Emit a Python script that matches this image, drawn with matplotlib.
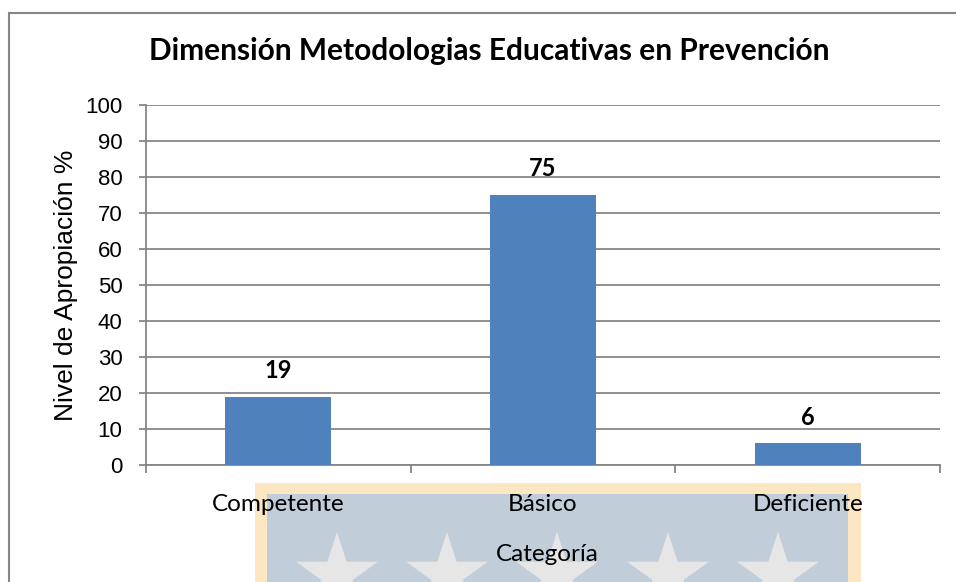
import matplotlib
matplotlib.use('Agg')
import matplotlib.pyplot as plt
import numpy as np
from matplotlib.patches import Rectangle, Polygon

categories = ['Competente', 'Básico', 'Deficiente']
values = [19, 75, 6]
y_ticks = [0, 10, 20, 30, 40, 50, 60, 70, 80, 90, 100]

W, H = 956, 582
fig = plt.figure(figsize=(W / 100, H / 100), dpi=100)
fig.patch.set_facecolor('white')

grey = '#868686'
bar_color = '#4F81BD'
calibri = ['Lato', 'DejaVu Sans']
arial = ['Liberation Sans', 'DejaVu Sans']


def px(x, y):
    return x / W, 1 - y / H


# outer chart frame (cut at right and bottom)
fig.patches.append(Rectangle(px(9, 600), 960 / W, 587 / H, transform=fig.transFigure,
                             facecolor='none', edgecolor=grey, lw=1.5, zorder=-2))

# watermark behind the axis labels
fig.patches.append(Rectangle(px(255, 600), 606 / W, 117 / H, transform=fig.transFigure,
                             facecolor='#FDE6C2', edgecolor='none', zorder=-1))
fig.patches.append(Rectangle(px(267, 600), 581 / W, 106 / H, transform=fig.transFigure,
                             facecolor='#C1CDD9', edgecolor='none', zorder=-1))
ang = np.pi / 2 + np.arange(10) * np.pi / 5
rad = np.where(np.arange(10) % 2 == 0, 43, 43 * 0.382)
for cx in [337, 447, 557, 668, 778]:
    pts = [px(cx + r * np.cos(a), 575 - r * np.sin(a)) for a, r in zip(ang, rad)]
    fig.patches.append(Polygon(pts, closed=True, transform=fig.transFigure,
                               facecolor='#E6E6E6', edgecolor='none', zorder=-1))

ax = fig.add_axes([146 / W, 1 - 465 / H, (940 - 146) / W, 360 / H])
x = np.arange(len(categories))
ax.bar(x, values, width=0.4, color=bar_color, zorder=3)

for xi, v in zip(x, values):
    ax.annotate(str(v), (xi, v), xytext=(0, 26), textcoords='offset pixels',
                ha='center', va='center', fontsize=17, fontweight='bold',
                family=calibri)

ax.set_xlim(-0.5, 2.5)
ax.set_ylim(0, 100)
ax.set_yticks(y_ticks)
ax.yaxis.grid(True, color=grey, lw=1.3)
ax.set_axisbelow(True)
for s in ['top', 'right']:
    ax.spines[s].set_visible(False)
for s in ['left', 'bottom']:
    ax.spines[s].set_color(grey)
    ax.spines[s].set_linewidth(1.3)

ax.set_xticks(x)
ax.set_xticklabels(categories, family=calibri, fontsize=17.5)
ax.set_xticks([-0.5, 0.5, 1.5, 2.5], minor=True)
ax.tick_params(axis='x', which='major', length=0, pad=21)
ax.tick_params(axis='x', which='minor', length=6, color=grey, width=1.3)
ax.tick_params(axis='y', length=5, color=grey, width=1.3, labelsize=16, pad=12)
for lab in ax.get_yticklabels():
    lab.set_family(arial)

ax.set_ylabel('Nivel de Apropiación %', family=arial, fontsize=19, labelpad=5)
fig.text(547 / W, 1 - 561 / H, 'Categoría', ha='center', va='baseline',
         family=calibri, fontsize=17.5)
fig.text(489 / W, 1 - 60 / H, 'Dimensión Metodologias Educativas en Prevención',
         ha='center', va='baseline', family=calibri, fontsize=21.5, fontweight='bold')

fig.savefig('out.png', dpi=100)
